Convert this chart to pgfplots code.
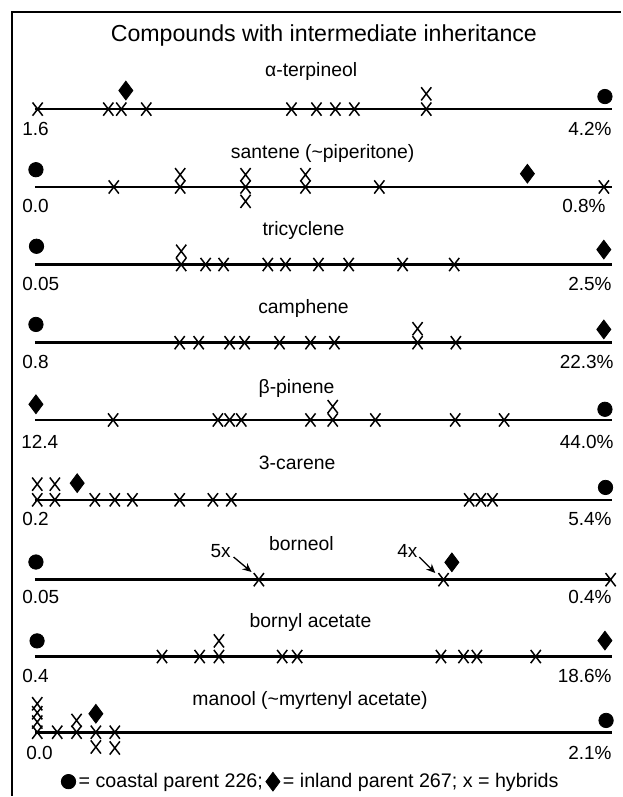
\documentclass[border=0pt]{standalone}
\usepackage{fontspec}
\setmainfont{Liberation Sans}
\usepackage{pgfplots}
\pgfplotsset{compat=1.18}
\usetikzlibrary{arrows.meta}
\pgfplotsset{legend image code/.code={\draw[#1] plot coordinates {(3.5pt,0pt)};}}

\begin{document}
\begin{tikzpicture}
\begin{axis}[
  width=311pt, height=398.5pt, scale only axis,
  xmin=-0.063158, xmax=1.028070,
  ymin=0, ymax=797, y dir=reverse,
  hide axis, clip=false,
  legend style={draw=none, fill=none, at={(axis cs:0.0439,783)}, anchor=west,
    legend columns=-1, font=\fontsize{9.85}{11}\selectfont, inner sep=0pt,
    /tikz/every even column/.style={column sep=0pt},
    nodes={inner sep=1.5pt}},
]
\path (rel axis cs:0,0) rectangle (rel axis cs:1,1);

% scale lines
\addplot[black, line width=1.25pt, forget plot] coordinates {(-0.00175,109.3) (1.0123,109.3)};
\addplot[black, line width=1.25pt, forget plot] coordinates {(-0.00175,187.3) (1.0123,187.3)};
\addplot[black, line width=1.25pt, forget plot] coordinates {(-0.00175,265) (1.0123,265)};
\addplot[black, line width=1.25pt, forget plot] coordinates {(-0.00175,343.3) (1.0123,343.3)};
\addplot[black, line width=1.25pt, forget plot] coordinates {(-0.00175,420.7) (1.0123,420.7)};
\addplot[black, line width=1.25pt, forget plot] coordinates {(-0.00175,500.7) (1.0123,500.7)};
\addplot[black, line width=1.25pt, forget plot] coordinates {(-0.00175,580.7) (1.0123,580.7)};
\addplot[black, line width=1.25pt, forget plot] coordinates {(-0.00175,657.7) (1.0123,657.7)};
\addplot[black, line width=1.25pt, forget plot] coordinates {(-0.00175,734) (1.0123,734)};

% hybrids
\addplot[only marks, mark=x, mark size=3.6pt, black, mark options={line width=0.75pt, yscale=1.3}, forget plot] coordinates {
 (0.003,109.3) (0.1272,109.3) (0.15,109.3) (0.1939,109.3) (0.4491,109.3) (0.493,109.3) (0.5263,109.3) (0.5596,109.3) (0.686,109.3) (0.686,94)
 (0.1368,187.3) (0.2535,187.3) (0.3684,187.3) (0.4737,187.3) (0.6035,187.3) (0.9982,187.3) (0.2535,175) (0.3684,175) (0.4737,175) (0.3684,201.7)
 (0.2553,265) (0.2982,265) (0.3298,265) (0.4075,265) (0.4386,265) (0.4965,265) (0.5496,265) (0.6444,265) (0.7351,265) (0.2553,251.7)
 (0.2526,343.3) (0.286,343.3) (0.3404,343.3) (0.3667,343.3) (0.4281,343.3) (0.4825,343.3) (0.5246,343.3) (0.6707,343.3) (0.738,343.3) (0.6707,329.3)
 (0.1356,420.7) (0.3198,420.7) (0.3404,420.7) (0.3609,420.7) (0.4825,420.7) (0.5216,420.7) (0.5965,420.7) (0.7368,420.7) (0.8228,420.7) (0.5216,407.3)
 (0.0023,500.7) (0.0333,500.7) (0.1035,500.7) (0.1386,500.7) (0.1696,500.7) (0.2526,500.7) (0.311,500.7) (0.3433,500.7) (0.7614,500.7) (0.7819,500.7) (0.8023,500.7) (0.0023,485) (0.0333,485)
 (0.3918,580.7) (0.7163,580.7) (1.01,580.7)
 (0.2216,657.7) (0.2877,657.7) (0.3216,657.7) (0.4328,657.7) (0.4591,657.7) (0.7118,657.7) (0.7514,657.7) (0.7749,657.7) (0.8784,657.7) (0.3216,642)
 (0.0023,733.5) (0.0023,723.3) (0.0023,714) (0.0023,705) (0.0374,733.5) (0.0714,733.5) (0.0714,721.7) (0.1053,733.5) (0.1386,733.5) (0.1053,748.3) (0.1386,749.3)
};

% coastal parent
\addplot[only marks, mark=*, mark size=3.6pt, black] coordinates {
 (1.0,96.7) (0,170) (0.001,246.7) (0,325) (1.0,410) (1.001,488.3) (0,563) (0.002,642) (1.002,721.7)
};
\addlegendentry{= coastal parent 226;}

% inland parent
\addplot[only marks, mark=diamond*, mark size=4.7pt, black] coordinates {
 (0.158,90.7) (0.8637,174) (0.998,250) (0.998,330) (0,405) (0.0725,484) (0.731,563.3) (1.0,641.7) (0.1053,715)
};
\addlegendentry{= inland parent 267; x = hybrids}

% frame
\draw[line width=1.4pt] (axis cs:-0.0421,797) -- (axis cs:-0.0421,12) -- (axis cs:1.02807,12);

% title
\node[anchor=base, inner sep=0pt, font=\fontsize{11.6}{13}\selectfont] at (axis cs:0.5061,41.7) {Compounds with intermediate inheritance};

% compound names
\begin{scope}[every node/.style={anchor=base, inner sep=0pt, font=\fontsize{9.7}{11}\selectfont}]
\node at (axis cs:0.4837,77) {α-terpineol};
\node at (axis cs:0.504,158.3) {santene (\textasciitilde piperitone)};
\node at (axis cs:0.4702,236) {tricyclene};
\node at (axis cs:0.4702,314.3) {camphene};
\node at (axis cs:0.4579,394) {β-pinene};
\node at (axis cs:0.4591,470.5) {3-carene};
\node at (axis cs:0.4667,551.7) {borneol};
\node at (axis cs:0.4825,628.5) {bornyl acetate};
\node at (axis cs:0.4816,706.7) {manool (\textasciitilde myrtenyl acetate)};
\end{scope}

% range labels
\begin{scope}[every node/.style={inner sep=0pt, font=\fontsize{9.5}{11}\selectfont}]
\node[anchor=west] at (axis cs:-0.0246,128.8) {1.6};
\node[anchor=east] at (axis cs:1.0123,128.8) {4.2\%};
\node[anchor=west] at (axis cs:-0.0246,206.8) {0.0};
\node[anchor=east] at (axis cs:1.00175,206.8) {0.8\%};
\node[anchor=west] at (axis cs:-0.0246,284.5) {0.05};
\node[anchor=east] at (axis cs:1.0123,284.5) {2.5\%};
\node[anchor=west] at (axis cs:-0.0246,363) {0.8};
\node[anchor=east] at (axis cs:1.0158,363) {22.3\%};
\node[anchor=west] at (axis cs:-0.0263,442.5) {12.4};
\node[anchor=east] at (axis cs:1.0158,442.5) {44.0\%};
\node[anchor=west] at (axis cs:-0.0246,520.2) {0.2};
\node[anchor=east] at (axis cs:1.0123,520.2) {5.4\%};
\node[anchor=west] at (axis cs:-0.0246,598.5) {0.05};
\node[anchor=east] at (axis cs:1.0123,598.5) {0.4\%};
\node[anchor=west] at (axis cs:-0.0246,677) {0.4};
\node[anchor=east] at (axis cs:1.0123,677) {18.6\%};
\node[anchor=west] at (axis cs:-0.0175,754) {0.0};
\node[anchor=east] at (axis cs:1.0123,754) {2.1\%};
\end{scope}

% borneol annotations
\node[inner sep=0pt, font=\fontsize{9.5}{11}\selectfont] at (axis cs:0.3246,552) {5x};
\node[inner sep=0pt, font=\fontsize{9.5}{11}\selectfont] at (axis cs:0.6526,552) {4x};
\draw[-{Stealth[length=4.5pt,width=4pt]}, line width=0.65pt] (axis cs:0.3474,558) -- (axis cs:0.3789,573);
\draw[-{Stealth[length=4.5pt,width=4pt]}, line width=0.65pt] (axis cs:0.6737,558) -- (axis cs:0.7018,574);
\end{axis}
\end{tikzpicture}
\end{document}
